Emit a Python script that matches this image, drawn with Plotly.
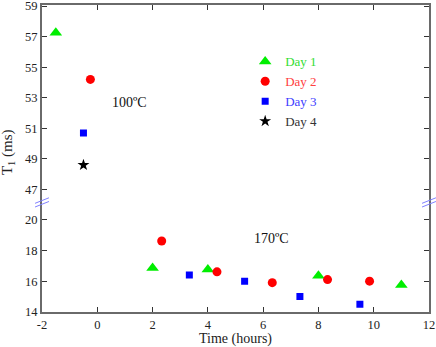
import plotly.graph_objects as go

# measured T1 values, top panel (100 C) and bottom panel (170 C)
days = ['Day 1', 'Day 2', 'Day 3', 'Day 4']
colors = ['#00ee00', '#ff0000', '#0000ff', '#000000']
text_colors = ['#33dd33', '#ff4040', '#4040ff', '#333333']
symbols = ['triangle-up', 'circle', 'square', 'star']
sizes = [11, 9, 7, 9]

hot_time = {'Day 1': [-1.5], 'Day 2': [-0.25], 'Day 3': [-0.5], 'Day 4': [-0.5]}
hot_t1 = {'Day 1': [57.25], 'Day 2': [54.2], 'Day 3': [50.7], 'Day 4': [48.6]}

warm_time = {'Day 1': [2.0, 4.0, 8.0, 11.0],
             'Day 2': [2.33, 4.33, 6.33, 8.33, 9.85],
             'Day 3': [3.33, 5.33, 7.33, 9.5],
             'Day 4': []}
warm_t1 = {'Day 1': [16.85, 16.75, 16.35, 15.75],
           'Day 2': [18.6, 16.6, 15.9, 16.1, 16.0],
           'Day 3': [16.4, 16.0, 15.0, 14.5],
           'Day 4': []}

x_ticks = [-2, 0, 2, 4, 6, 8, 10, 12]
x_labels = ['-2', '0', '2', '4', '6', '8', '10', '12']
top_ticks = [47, 49, 51, 53, 55, 57, 59]
bottom_ticks = [14, 16, 18, 20]

font = 'Liberation Serif'
axis_col = '#6a6a6a'
break_col = '#8080ff'

fig = go.Figure()
for d, c, tc, s, sz in zip(days, colors, text_colors, symbols, sizes):
    fig.add_trace(go.Scatter(
        x=hot_time[d], y=hot_t1[d], xaxis='x2', yaxis='y2', mode='markers',
        name="<span style='color:%s'>%s</span>" % (tc, d), legendgroup=d,
        marker=dict(color=c, symbol=s, size=sz, line=dict(width=0))))
    fig.add_trace(go.Scatter(
        x=warm_time[d], y=warm_t1[d], xaxis='x', yaxis='y', mode='markers',
        name=d, legendgroup=d, showlegend=False,
        marker=dict(color=c, symbol=s, size=sz, line=dict(width=0))))

ax = dict(showline=True, linecolor=axis_col, linewidth=2, ticks='inside',
          ticklen=5, tickcolor='#333', tickwidth=1, showgrid=False,
          zeroline=False, automargin=False, ticklabeloverflow='allow',
          tickfont=dict(family=font, size=12.5, color='#222'))

split = 0.357
fig.update_layout(
    width=436, height=347,
    margin=dict(l=42, r=7, t=5, b=35),
    plot_bgcolor='white', paper_bgcolor='white',
    font=dict(family=font, size=13, color='#222'),
    xaxis=dict(ax, range=[-2, 12], tickvals=x_ticks, ticktext=x_labels, anchor='y',
               title=dict(text='Time (hours)', standoff=3, font=dict(family=font, size=14))),
    xaxis2=dict(ax, range=[-2, 12], tickvals=x_ticks, anchor='y2',
                side='top', showticklabels=False, matches='x'),
    yaxis=dict(ax, domain=[0, split], range=[14, 21.1], tickvals=bottom_ticks,
               mirror='ticks'),
    yaxis2=dict(ax, domain=[split, 1], range=[46.15, 59.07],
                tickvals=top_ticks, mirror='ticks'),
    legend=dict(x=0.525, y=0.865, xanchor='left', yanchor='top', bgcolor='rgba(0,0,0,0)',
                tracegroupgap=0, font=dict(family=font, size=13)),
    showlegend=True,
)

fig.add_annotation(text='100ºC', x=0.227, y=0.684, xref='paper', yref='paper',
                   xanchor='center', yanchor='middle', showarrow=False,
                   font=dict(family=font, size=14, color='#111'))
fig.add_annotation(text='170ºC', x=0.594, y=0.24, xref='paper', yref='paper',
                   xanchor='center', yanchor='middle', showarrow=False,
                   font=dict(family=font, size=14, color='#111'))
fig.add_annotation(text='T<sub>1</sub> (ms)', x=-0.086, y=0.52, xref='paper', yref='paper',
                   xanchor='center', yanchor='middle', textangle=-90, showarrow=False,
                   font=dict(family=font, size=15, color='#222'))

# axis break marks on both sides
for xp in [0, 1]:
    for dy in [-0.006, 0.006]:
        fig.add_shape(type='line', xref='paper', yref='paper',
                      x0=xp - 0.018, x1=xp + 0.018, y0=split + dy - 0.009, y1=split + dy + 0.009,
                      line=dict(color=break_col, width=1))

# drop the page's default body margin so the figure sits at the window corner
fig.write_html("out.html", config={'displayModeBar': False},
               post_script="document.body.style.margin='0';")
